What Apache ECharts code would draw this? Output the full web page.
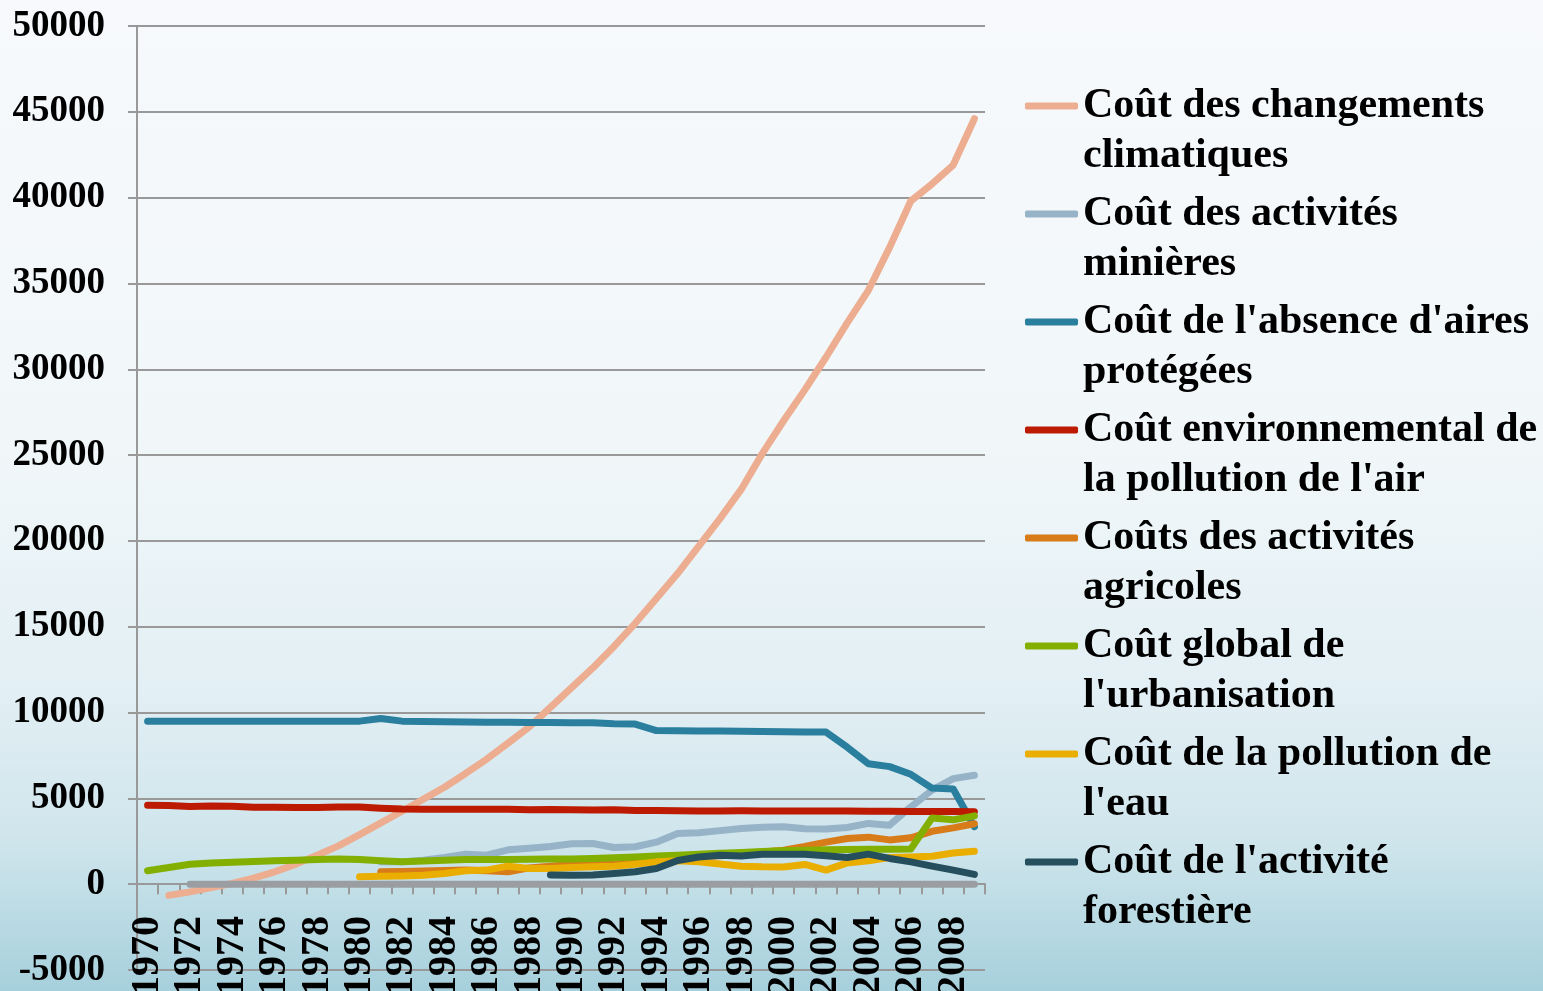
<!DOCTYPE html>
<html>
<head>
<meta charset="utf-8">
<title>Coûts environnementaux 1970-2009</title>
<script src="https://cdn.jsdelivr.net/npm/echarts@6/dist/echarts.min.js"></script>
<style>
    html, body { margin: 0; padding: 0; }
    #chart { width: 1543px; height: 991px; }
</style>
</head>
<body>
<div id="chart"></div>
<script>
// Years on the category axis
const years = ['1970', '1971', '1972', '1973', '1974', '1975', '1976', '1977', '1978', '1979',
    '1980', '1981', '1982', '1983', '1984', '1985', '1986', '1987', '1988', '1989',
    '1990', '1991', '1992', '1993', '1994', '1995', '1996', '1997', '1998', '1999',
    '2000', '2001', '2002', '2003', '2004', '2005', '2006', '2007', '2008', '2009'];

// Series values (null = no value that year)
const climat = [null, -650, -450, -200, 50, 350, 720, 1170, 1690, 2230,
    2890, 3570, 4250, 4950, 5650, 6450, 7290, 8220, 9160, 10300,
    11450, 12600, 13850, 15200, 16650, 18100, 19700, 21300, 23000, 25100,
    27000, 28800, 30700, 32700, 34600, 37100, 39800, 40800, 41900, 44600];

const minieres = [null, null, null, null, null, null, null, null, null, null,
    null, 1300, 1300, 1400, 1550, 1750, 1690, 2000, 2100, 2200,
    2350, 2370, 2140, 2180, 2450, 2950, 3000, 3120, 3240, 3320,
    3340, 3230, 3220, 3300, 3540, 3440, 4500, 5480, 6150, 6350];

const airesProtegees = [9500, 9500, 9500, 9500, 9500, 9500, 9500, 9500, 9500, 9500,
    9500, 9650, 9500, 9480, 9460, 9450, 9440, 9430, 9420, 9420,
    9410, 9400, 9350, 9330, 8950, 8940, 8930, 8920, 8910, 8890,
    8880, 8870, 8860, 7980, 7020, 6850, 6400, 5600, 5550, 3350];

const pollutionAir = [4600, 4580, 4520, 4550, 4540, 4480, 4480, 4470, 4470, 4490,
    4500, 4430, 4380, 4370, 4370, 4360, 4360, 4370, 4340, 4350,
    4330, 4320, 4330, 4300, 4290, 4280, 4270, 4270, 4280, 4270,
    4260, 4260, 4270, 4260, 4250, 4250, 4240, 4240, 4230, 4220];

const agricoles = [null, null, null, null, null, null, null, null, null, null,
    null, 720, 740, 770, 800, 820, 780, 720, 950, 1050,
    1150, 1250, 1300, 1350, 1400, 1500, 1600, 1650, 1750, 1880,
    1980, 2200, 2450, 2660, 2740, 2580, 2700, 3080, 3280, 3520];

const urbanisation = [780, 970, 1160, 1240, 1280, 1320, 1360, 1400, 1440, 1460,
    1440, 1360, 1300, 1350, 1400, 1440, 1440, 1440, 1450, 1460,
    1470, 1500, 1540, 1590, 1640, 1690, 1750, 1800, 1850, 1900,
    1950, 1980, 2000, 2020, 2040, 2040, 2050, 3850, 3750, 3980];

const pollutionEau = [null, null, null, null, null, null, null, null, null, null,
    430, 460, 480, 520, 620, 780, 820, 1050, 910, 920,
    970, 1010, 1050, 1160, 1300, 1360, 1300, 1180, 1050, 1010,
    1000, 1150, 820, 1240, 1360, 1550, 1590, 1630, 1820, 1920];

const forestiere = [null, null, null, null, null, null, null, null, null, null,
    null, null, null, null, null, null, null, null, null, 540,
    520, 530, 620, 720, 910, 1380, 1580, 1690, 1640, 1740,
    1750, 1750, 1650, 1550, 1750, 1500, 1300, 1050, 820, 570];

// grey series drawn along zero (its legend entry is off the picture)
const autre = [null, null, 0, 0, 0, 0, 0, 0, 0, 0,
    0, 0, 0, 0, 0, 0, 0, 0, 0, 0,
    0, 0, 0, 0, 0, 0, 0, 0, 0, 0,
    0, 0, 0, 0, 0, 0, 0, 0, 0, 0];

const seriesNames = [
    'Coût des changements climatiques',
    'Coût des activités minières',
    "Coût de l'absence d'aires protégées",
    "Coût environnemental de la pollution de l'air",
    'Coûts des activités agricoles',
    "Coût global de l'urbanisation",
    "Coût de la pollution de l'eau",
    "Coût de l'activité forestière"
];

// how the legend labels wrap in the picture
const legendLines = {
    'Coût des changements climatiques': 'Coût des changements\nclimatiques',
    'Coût des activités minières': 'Coût des activités\nminières',
    "Coût de l'absence d'aires protégées": "Coût de l'absence d'aires\nprotégées",
    "Coût environnemental de la pollution de l'air": "Coût environnemental de\nla pollution de l'air",
    'Coûts des activités agricoles': 'Coûts des activités\nagricoles',
    "Coût global de l'urbanisation": "Coût global de\nl'urbanisation",
    "Coût de la pollution de l'eau": "Coût de la pollution de\nl'eau",
    "Coût de l'activité forestière": "Coût de l'activité\nforestière"
};

const yTicks = { min: -5000, max: 50000, interval: 5000 };

const colors = ['#edad90', '#97b3c8', '#2a7f9e', '#bd1a02', '#d87b19', '#83b000', '#e9ae00', '#264f5e', '#9a9ea2'];
const values = [climat, minieres, airesProtegees, pollutionAir, agricoles, urbanisation, pollutionEau, forestiere, autre];

const chart = echarts.init(document.getElementById('chart'));

const series = values.map((data, i) => ({
    name: i < seriesNames.length ? seriesNames[i] : 'Autre',
    type: 'line',
    data: data,
    symbol: 'none',
    connectNulls: false,
    lineStyle: { width: 7, color: colors[i], cap: 'round', join: 'round' },
    itemStyle: { color: colors[i] },
    emphasis: { disabled: true }
}));

const option = {
    animation: false,
    backgroundColor: {
        type: 'linear', x: 0, y: 0, x2: 0, y2: 1,
        colorStops: [
            { offset: 0, color: '#f7f9fc' },
            { offset: 0.45, color: '#f1f7f9' },
            { offset: 0.7, color: '#e2eff4' },
            { offset: 0.85, color: '#cfe5ec' },
            { offset: 1, color: '#a6d0dc' }
        ]
    },
    textStyle: { fontFamily: 'Liberation Serif' },
    grid: { left: 137, right: 558, top: 26, bottom: 21, containLabel: false, outerBoundsMode: 'none' },
    legend: {
        data: seriesNames,
        orient: 'vertical',
        left: 1025,
        top: 31,
        padding: 0,
        itemGap: -42,
        itemWidth: 53,
        itemHeight: 7,
        icon: 'roundRect',
        // leading blank line keeps the swatch level with the first text line
        formatter: name => '\n' + (legendLines[name] || name),
        textStyle: {
            fontFamily: 'Liberation Serif',
            fontWeight: 'bold',
            fontSize: 42,
            lineHeight: 50,
            color: '#000'
        }
    },
    xAxis: {
        type: 'category',
        data: years,
        boundaryGap: true,
        axisLine: { onZero: true, lineStyle: { color: '#999', width: 2 } },
        axisTick: { show: true, length: 10, interval: 0, lineStyle: { color: '#999', width: 2 } },
        axisLabel: {
            interval: 1,
            rotate: 90,
            // labels sit under the zero line, above the grid's bottom edge
            margin: -54,
            fontFamily: 'Liberation Serif',
            fontWeight: 'bold',
            fontSize: 40,
            color: '#000'
        },
        splitLine: { show: false }
    },
    yAxis: {
        type: 'value',
        min: yTicks.min,
        max: yTicks.max,
        interval: yTicks.interval,
        axisLine: { show: true, lineStyle: { color: '#999', width: 2 } },
        axisTick: { show: true, length: 9, lineStyle: { color: '#999', width: 2 } },
        axisLabel: {
            margin: 32,
            formatter: v => String(v),
            fontFamily: 'Liberation Serif',
            fontWeight: 'bold',
            fontSize: 37,
            color: '#000'
        },
        splitLine: { show: true, lineStyle: { color: '#999', width: 2 } }
    },
    series: series
};

chart.setOption(option);

window.addEventListener('resize', () => {
    chart.resize();
});
</script>
</body>
</html>
